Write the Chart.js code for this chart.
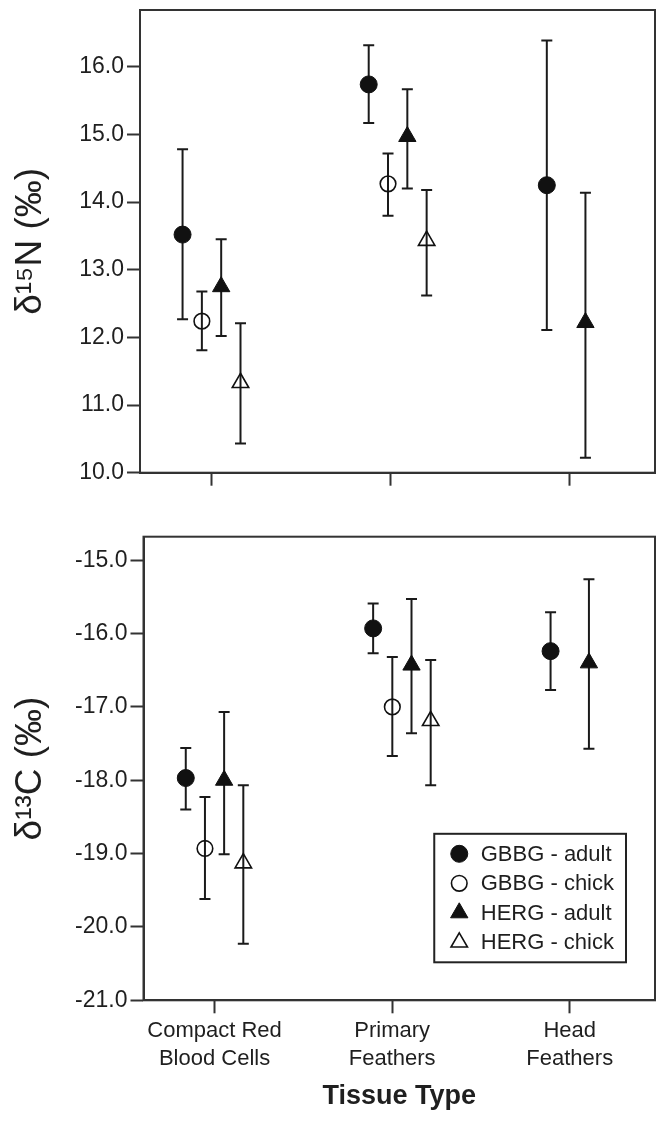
<!DOCTYPE html>
<html>
<head>
<meta charset="utf-8">
<script src="https://cdn.jsdelivr.net/npm/chart.js@4.4.1/dist/chart.umd.min.js"></script>
<style>
    html, body { margin: 0; padding: 0; background: #fff; overflow: hidden; }
    canvas { position: absolute; left: 0; display: block; }
    #n15Chart { top: 0; }
    #c13Chart { top: 510px; }
</style>
</head>
<body>
<canvas id="n15Chart" width="656" height="500"></canvas>
<canvas id="c13Chart" width="656" height="627"></canvas>
<script>
// Tissue types on the x axis and the four bird groups
const tissues = [['Compact Red', 'Blood Cells'], ['Primary', 'Feathers'], ['Head', 'Feathers']];
const groups = ['GBBG - adult', 'GBBG - chick', 'HERG - adult', 'HERG - chick'];

// δ15N: group means per tissue, and error bar ends [low, high]
const n15GbbgAdult = [13.52, 15.74, 14.25];
const n15GbbgAdultErr = [[12.27, 14.78], [15.17, 16.32], [12.11, 16.39]];
const n15GbbgChick = [12.24, 14.27, null];
const n15GbbgChickErr = [[11.81, 12.68], [13.80, 14.72], null];
const n15HergAdult = [12.75, 14.97, 12.22];
const n15HergAdultErr = [[12.02, 13.45], [14.20, 15.67], [10.22, 14.14]];
const n15HergChick = [11.33, 13.43, null];
const n15HergChickErr = [[10.43, 12.21], [12.62, 14.18], null];

// δ13C: group means per tissue, and error bar ends [low, high]
const c13GbbgAdult = [-17.97, -15.93, -16.24];
const c13GbbgAdultErr = [[-18.40, -17.56], [-16.27, -15.59], [-16.77, -15.71]];
const c13GbbgChick = [-18.93, -17.00, null];
const c13GbbgChickErr = [[-19.62, -18.23], [-17.67, -16.32], null];
const c13HergAdult = [-18.00, -16.43, -16.40];
const c13HergAdultErr = [[-19.01, -17.07], [-17.36, -15.53], [-17.57, -15.26]];
const c13HergChick = [-19.13, -17.19, null];
const c13HergChickErr = [[-20.23, -18.07], [-18.07, -16.36], null];

// Y axis tick labels
const n15Ticks = [10, 11, 12, 13, 14, 15, 16];
const c13Ticks = [-21, -20, -19, -18, -17, -16, -15];

const FONT = '"Liberation Sans", Arial, Helvetica, sans-serif';
const INK = '#1f1f1f';
const LINE = '#333';

// marker look of each group
const groupStyles = [
    { pointStyle: 'circle', filled: true, radius: 8.5 },
    { pointStyle: 'circle', filled: false, radius: 7.8 },
    { pointStyle: 'triangle', filled: true, radius: 10 },
    { pointStyle: 'triangle', filled: false, radius: 9.5 },
];
const SLOT = 0.108;            // horizontal dodge between groups (x units)
const slots = [-1.5, -0.5, 0.5, 1.5];

function buildDatasets(means, errs, shift) {
    const sets = [];
    means.forEach((vals, g) => {
        const st = groupStyles[g];
        const xOf = i => i + 1 + shift[i] + slots[g] * SLOT;
        const pts = [];
        const bars = [];
        vals.forEach((v, i) => {
            if (v === null) return;
            pts.push({ x: xOf(i), y: v });
            bars.push({ x: xOf(i), y: errs[g][i][0] }, { x: xOf(i), y: errs[g][i][1] }, { x: xOf(i), y: null });
        });
        sets.push({
            label: groups[g],
            data: pts,
            order: 1,
            showLine: false,
            pointStyle: st.pointStyle,
            pointRadius: st.radius,
            pointBackgroundColor: st.filled ? '#111' : 'rgba(0,0,0,0)',
            pointBorderColor: '#111',
            pointBorderWidth: st.filled ? 1 : 1.6,
        });
        sets.push({
            label: groups[g] + ' error',
            isErrorBar: true,
            data: bars,
            order: 2,
            showLine: true,
            spanGaps: false,
            borderColor: '#1a1a1a',
            borderWidth: 2,
            pointStyle: 'line',
            pointRadius: 5.5,
            pointBorderWidth: 2,
            pointBorderColor: '#1a1a1a',
        });
    });
    return sets;
}

// box around the plot area
const plotFrame = {
    id: 'plotFrame',
    beforeDatasetsDraw(chart) {
        const { ctx, chartArea: a } = chart;
        ctx.save();
        ctx.strokeStyle = LINE;
        ctx.lineWidth = 2;
        ctx.strokeRect(a.left, a.top, a.right - a.left, a.bottom - a.top);
        ctx.restore();
    },
};

function drawMarker(ctx, ds, x, y) {
    const r = ds.pointRadius;
    ctx.beginPath();
    if (ds.pointStyle === 'circle') {
        ctx.arc(x, y, r, 0, Math.PI * 2);
    } else {
        ctx.moveTo(x, y - r);
        ctx.lineTo(x + r * Math.sin(2 * Math.PI / 3), y + r * 0.5);
        ctx.lineTo(x - r * Math.sin(2 * Math.PI / 3), y + r * 0.5);
        ctx.closePath();
    }
    ctx.fillStyle = ds.pointBackgroundColor;
    ctx.fill();
    ctx.lineWidth = ds.pointBorderWidth;
    ctx.strokeStyle = ds.pointBorderColor;
    ctx.stroke();
}

// legend drawn inside the plot, lower right
const insideLegend = {
    id: 'insideLegend',
    afterDraw(chart, args, opts) {
        if (!opts.display) return;
        const { ctx, chartArea: a } = chart;
        const items = chart.data.datasets.filter(d => !d.isErrorBar);
        ctx.save();
        ctx.font = `22px ${FONT}`;
        const textW = Math.max(...items.map(d => ctx.measureText(d.label).width));
        const w = opts.textOffset + textW + opts.padRight;
        const h = opts.padY * 2 + opts.rowHeight * (items.length - 1);
        const left = a.right - opts.right - w;
        const top = a.bottom - opts.bottom - h;
        ctx.fillStyle = '#fff';
        ctx.fillRect(left, top, w, h);
        ctx.strokeStyle = '#222';
        ctx.lineWidth = 2;
        ctx.strokeRect(left, top, w, h);
        items.forEach((d, i) => {
            const y = top + opts.padY + i * opts.rowHeight;
            drawMarker(ctx, d, left + opts.markerOffset, y);
            ctx.fillStyle = INK;
            ctx.textBaseline = 'middle';
            ctx.textAlign = 'left';
            ctx.fillText(d.label, left + opts.textOffset, y + 1);
        });
        ctx.restore();
    },
};

function makeChart(canvasId, cfg) {
    const ctx = document.getElementById(canvasId).getContext('2d');
    return new Chart(ctx, {
        type: 'scatter',
        data: { datasets: cfg.datasets },
        plugins: [plotFrame, insideLegend],
        options: {
            responsive: false,
            animation: false,
            devicePixelRatio: 1,
            events: [],
            layout: {
                autoPadding: false,
                padding: { top: cfg.padTop, right: 1, left: 0, bottom: 0 },
            },
            plugins: {
                legend: { display: false },
                tooltip: { enabled: false },
                insideLegend: {
                    display: cfg.legend,
                    right: 29, bottom: 38,
                    padY: 20, rowHeight: 29.5,
                    markerOffset: 25, textOffset: 46.5, padRight: 12,
                },
            },
            scales: {
                x: {
                    type: 'linear',
                    position: 'bottom',
                    min: 0.6,
                    max: 3.48,
                    afterBuildTicks: s => { s.ticks = [1, 2, 3].map(v => ({ value: v })); },
                    afterFit: s => {
                        s.height = cfg.xHeight;
                        s.paddingLeft = 0;
                        s.paddingRight = 0;
                    },
                    grid: { drawOnChartArea: false, drawTicks: true, tickLength: 13, tickWidth: 2, tickColor: LINE },
                    border: { display: true, color: LINE, width: 2 },
                    ticks: {
                        display: cfg.xLabels,
                        autoSkip: false,
                        maxRotation: 0,
                        padding: 4,
                        color: INK,
                        font: { family: FONT, size: 22, lineHeight: 1.25 },
                        callback: v => tissues[Math.round(v) - 1],
                    },
                    title: {
                        display: cfg.xLabels,
                        text: 'Tissue Type',
                        color: INK,
                        font: { family: FONT, size: 27, weight: 'bold' },
                        padding: { top: 0, bottom: 24 },
                    },
                },
                y: {
                    type: 'linear',
                    position: 'left',
                    min: cfg.yMin,
                    max: cfg.yMax,
                    afterBuildTicks: s => { s.ticks = cfg.yTicks.map(v => ({ value: v })); },
                    afterFit: s => {
                        s.width = cfg.yWidth;
                        s.paddingTop = 0;
                        s.paddingBottom = 0;
                    },
                    grid: { drawOnChartArea: false, drawTicks: true, tickLength: 13, tickWidth: 2, tickColor: LINE },
                    border: { display: true, color: LINE, width: 2 },
                    ticks: {
                        padding: 3,
                        color: INK,
                        font: { family: FONT, size: 23 },
                        callback: v => v.toFixed(1),
                    },
                    title: {
                        display: true,
                        text: cfg.yTitle,
                        color: INK,
                        font: { family: FONT, size: 37 },
                        padding: { top: 9, bottom: 0 },
                    },
                },
            },
        },
    });
}

makeChart('n15Chart', {
    datasets: buildDatasets(
        [n15GbbgAdult, n15GbbgChick, n15HergAdult, n15HergChick],
        [n15GbbgAdultErr, n15GbbgChickErr, n15HergAdultErr, n15HergChickErr],
        [0, 0.041, 0.037]
    ),
    padTop: 10,
    xHeight: 27.3,
    xLabels: false,
    legend: false,
    yMin: 10,
    yMax: 16.84,
    yTicks: n15Ticks,
    yWidth: 140,
    yTitle: 'δ¹⁵N (‰)',
});

makeChart('c13Chart', {
    datasets: buildDatasets(
        [c13GbbgAdult, c13GbbgChick, c13HergAdult, c13HergChick],
        [c13GbbgAdultErr, c13GbbgChickErr, c13HergAdultErr, c13HergChickErr],
        [0, 0.055, 0.054]
    ),
    padTop: 26.7,
    xHeight: 136.7,
    xLabels: true,
    legend: true,
    yMin: -21,
    yMax: -14.68,
    yTicks: c13Ticks,
    yWidth: 143.5,
    yTitle: 'δ¹³C (‰)',
});
</script>
</body>
</html>
